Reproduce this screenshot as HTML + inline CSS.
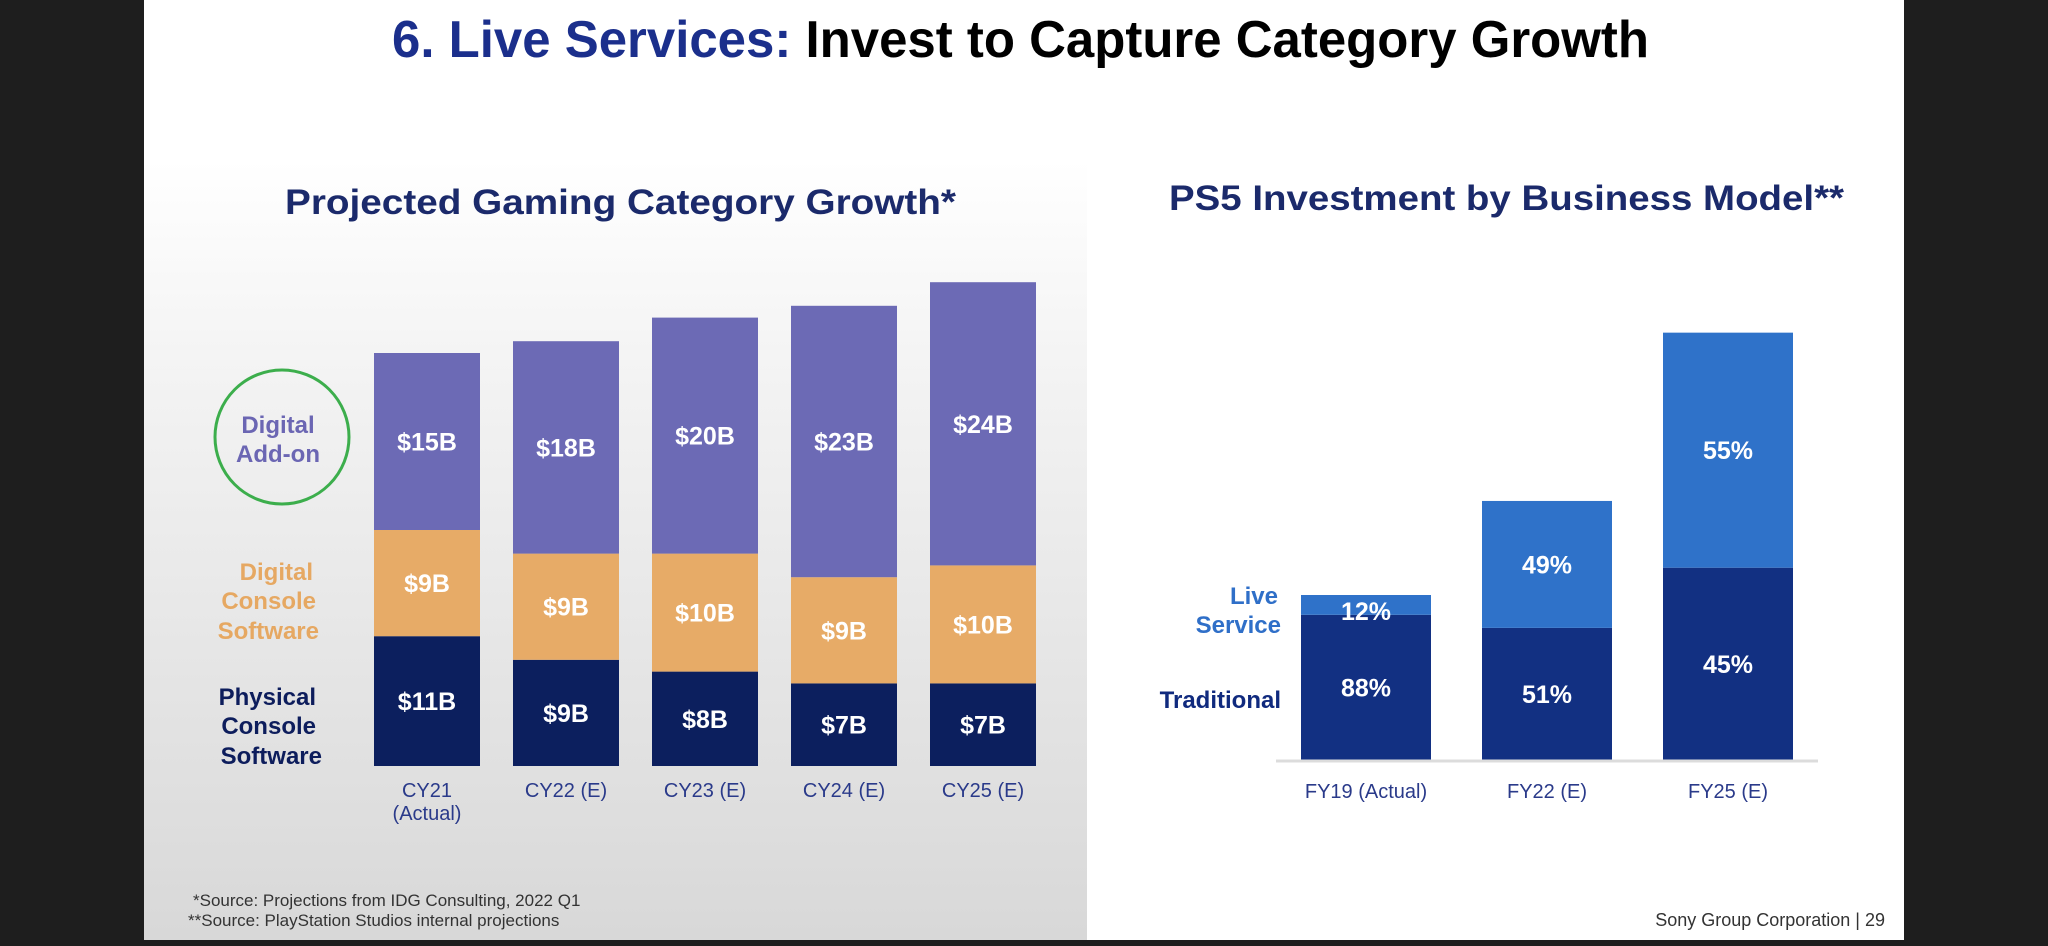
<!DOCTYPE html>
<html><head><meta charset="utf-8"><style>
html,body{margin:0;padding:0;background:#1e1e1e;}
svg{display:block;font-family:"Liberation Sans",sans-serif;}
</style></head><body>
<svg width="2048" height="946" viewBox="0 0 2048 946">
<defs>
<linearGradient id="lg" x1="0" y1="0" x2="0" y2="1">
<stop offset="0" stop-color="#ffffff"/><stop offset="0.25" stop-color="#f4f4f4"/><stop offset="1" stop-color="#d8d8d8"/>
</linearGradient>
</defs>
<rect x="0" y="0" width="2048" height="946" fill="#1e1e1e"/>
<rect x="144" y="0" width="1760" height="940" fill="#ffffff"/>
<rect x="144" y="160" width="943" height="780" fill="url(#lg)"/>
<text x="392" y="57" font-size="52" font-weight="bold" textLength="1257" lengthAdjust="spacingAndGlyphs"><tspan fill="#1b2f8c">6. Live Services:</tspan><tspan fill="#000"> Invest to Capture Category Growth</tspan></text>
<text x="285" y="214" font-size="35" font-weight="bold" fill="#1b2a6b" textLength="671" lengthAdjust="spacingAndGlyphs">Projected Gaming Category Growth*</text>
<text x="1169" y="210" font-size="35" font-weight="bold" fill="#1b2a6b" textLength="675" lengthAdjust="spacingAndGlyphs">PS5 Investment by Business Model**</text>

<circle cx="282" cy="437" r="67" fill="none" stroke="#3cae4c" stroke-width="3"/>
<g font-weight="bold" font-size="24" text-anchor="middle" fill="#6b66b3">
<text x="278" y="433">Digital</text><text x="278" y="462">Add-on</text></g>
<g font-weight="bold" font-size="24" text-anchor="end" fill="#e6a862">
<text x="313" y="580">Digital</text><text x="316" y="609">Console</text><text x="319" y="639">Software</text></g>
<g font-weight="bold" font-size="24" text-anchor="end" fill="#0d1d5c">
<text x="316" y="705">Physical</text><text x="316" y="734">Console</text><text x="322" y="764">Software</text></g>

<g id="left"></g>
<g id="right"></g>

<line x1="1276" y1="761" x2="1818" y2="761" stroke="#dcdcdc" stroke-width="3"/>
<g font-weight="bold" font-size="24" text-anchor="end">
<text x="1278" y="604" fill="#2f6fc8">Live</text><text x="1281" y="633" fill="#2f6fc8">Service</text>
<text x="1281" y="708" fill="#102a7e">Traditional</text></g>

<g font-size="17" fill="#333">
<text x="193" y="906">*Source: Projections from IDG Consulting, 2022 Q1</text>
<text x="188" y="926">**Source: PlayStation Studios internal projections</text></g>
<text x="1885" y="926" font-size="18" fill="#333" text-anchor="end">Sony Group Corporation  |  29</text>
</svg>
<script>
const leftCats=["CY21","CY22 (E)","CY23 (E)","CY24 (E)","CY25 (E)"];
const physical=[11,9,8,7,7];
const digitalConsole=[9,9,10,9,10];
const digitalAddon=[15,18,20,23,24];
const rightCats=["FY19 (Actual)","FY22 (E)","FY25 (E)"];
const investIndex=[1,1.57,2.59];
const liveShare=[12,49,55];
const tradShare=[88,51,45];

const NS="http://www.w3.org/2000/svg";
function mk(tag,attrs,parent){const e=document.createElementNS(NS,tag);for(const k in attrs)e.setAttribute(k,attrs[k]);parent.appendChild(e);return e;}
const lBase=766, lPx=11.8, lX0=374, lStep=139, lW=106;
const ly=v=>lBase-v*lPx;
const lx=i=>lX0+i*lStep;
const L=document.getElementById('left');
const segs=[[physical,"#0c1f5e","physical"],[digitalConsole,"#e7ab67","digital-console"],[digitalAddon,"#6c6ab5","digital-addon"]];
leftCats.forEach((c,i)=>{
  let acc=0;
  segs.forEach(([arr,col,nm])=>{
    const v=arr[i];const y0=ly(acc),y1=ly(acc+v);
    const r=mk('rect',{x:lx(i),y:y1,width:lW,height:y0-y1,fill:col},L);
    
    
    const t=mk('text',{x:lx(i)+lW/2,y:(y0+y1)/2+9,'font-size':25,'font-weight':'bold',fill:'#fff','text-anchor':'middle'},L);
    t.textContent='$'+v+'B';
    
    
    acc+=v;
  });
  const t=mk('text',{x:lx(i)+lW/2,y:797,'font-size':20,fill:'#2a3a8a','text-anchor':'middle'},L);
  t.textContent=c;
  
  
  if(i===0){const a=mk('text',{x:lx(i)+lW/2,y:820,'font-size':20,fill:'#2a3a8a','text-anchor':'middle'},L);a.textContent='(Actual)';
    
    }
});
const rBase=760, rPx=165, rX0=1301, rStep=181, rW=130;
const rx=i=>rX0+i*rStep;
const ry=v=>rBase-v*rPx;
const R=document.getElementById('right');
rightCats.forEach((c,i)=>{
  const tot=investIndex[i];const tr=tot*tradShare[i]/100;
  const yT=ry(tot), yS=ry(tr);
  const a=mk('rect',{x:rx(i),y:yS,width:rW,height:rBase-yS,fill:"#123082"},R);
  
  
  const b=mk('rect',{x:rx(i),y:yT,width:rW,height:yS-yT,fill:"#2f72c9"},R);
  
  
  const lt=mk('text',{x:rx(i)+rW/2,y:Math.max((yT+yS)/2+9,yT+25),'font-size':25,'font-weight':'bold',fill:'#fff','text-anchor':'middle'},R);
  lt.textContent=liveShare[i]+'%';
  
  
  const tt=mk('text',{x:rx(i)+rW/2,y:(yS+rBase)/2+9,'font-size':25,'font-weight':'bold',fill:'#fff','text-anchor':'middle'},R);
  tt.textContent=tradShare[i]+'%';
  
  
  const xl=mk('text',{x:rx(i)+rW/2,y:798,'font-size':20,fill:'#2a3a8a','text-anchor':'middle'},R);
  xl.textContent=c;
  
  
});
</script>
</body></html>
